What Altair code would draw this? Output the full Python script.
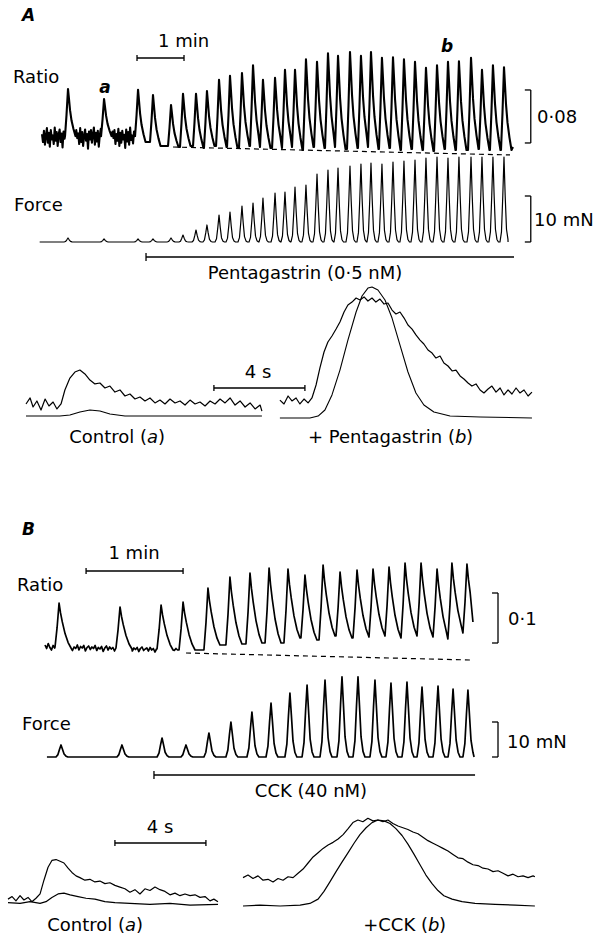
import altair as alt
import pandas as pd

FONT = "DejaVu Sans"
W = 599

# ================= Panel A : slow recordings (time s, ratio change, force mN) =================
A_EVENT_T = [33.2, 79.2, 122.6, 141.7, 164.7, 180.0, 196.6, 210.6, 226.0, 240.0, 255.3, 269.4,
             282.1, 297.5, 310.2, 323.0, 337.0, 351.1, 365.1, 377.9, 393.2, 407.2, 420.0, 434.0,
             448.1, 462.1, 476.2, 490.2, 504.3, 518.3, 532.3, 547.7, 561.7, 575.7, 589.8]
A_RATIO_PEAK = [0.092, 0.077, 0.091, 0.083, 0.068, 0.085, 0.085, 0.089, 0.106, 0.112, 0.116, 0.128,
                0.106, 0.109, 0.121, 0.121, 0.137, 0.133, 0.146, 0.142, 0.148, 0.142, 0.148, 0.139,
                0.140, 0.137, 0.133, 0.124, 0.128, 0.133, 0.134, 0.139, 0.121, 0.128, 0.125]
A_RATIO_TROUGH = [0.021, 0.021, 0.021, 0.012, 0.006, 0.0045, 0.006, 0.003, 0.006, 0.0045, 0.003, 0.006,
                  0.0045, 0.003, 0.003, 0.0045, 0.0, 0.0045, 0.003, 0.0045, 0.0015, 0.003, 0.0045, 0.0015,
                  0.003, 0.0, 0.0015, 0.0, -0.0015, 0.0015, 0.0, 0.0, 0.0015, 0.0, 0.0]
A_RATIO_END = [601.3, 0.0045]
A_RATIO_NOISE_DT = 1.25
A_RATIO_NOISE = [0.024, 0.012, 0.029, 0.008, 0.021, 0.033, 0.011, 0.026, 0.005, 0.030,
                 0.016, 0.022, 0.009, 0.034, 0.014, 0.027, 0.006, 0.023, 0.031, 0.012,
                 0.025, 0.004, 0.028, 0.017, 0.032, 0.010, 0.020, 0.035, 0.013, 0.026,
                 0.007, 0.029, 0.015, 0.022, 0.003, 0.030, 0.018, 0.025, 0.009, 0.033,
                 0.012, 0.027, 0.006, 0.021, 0.031, 0.014, 0.024, 0.002, 0.028, 0.016,
                 0.030, 0.011, 0.023, 0.034, 0.008, 0.026, 0.013, 0.029, 0.005, 0.022,
                 0.032, 0.010, 0.025, 0.017, 0.031, 0.007, 0.027, 0.012, 0.033, 0.015,
                 0.021, 0.004, 0.028, 0.018, 0.030, 0.009, 0.024, 0.014, 0.032, 0.006,
                 0.026, 0.011, 0.029, 0.016, 0.023, 0.003, 0.031, 0.013, 0.027, 0.008,
                 0.034, 0.015, 0.022, 0.010, 0.028]
A_FORCE_PEAK = [0.87, 0.65, 0.65, 0.65, 0.87, 1.52, 2.61, 3.70, 5.87, 6.52, 7.83, 8.48,
                9.57, 10.65, 10.87, 11.96, 12.39, 14.78, 15.65, 16.09, 16.52, 16.96, 17.17, 16.96,
                17.39, 17.61, 17.83, 18.26, 18.48, 18.26, 18.48, 18.48, 18.48, 18.48, 18.48]
A_FORCE_SPAN = [-3.0, 595.0]
A_BASELINE_T = [167.2, 597.5]
A_BASELINE_V = [0.0045, -0.0075]
A_RATIO_RISE_DT = [-3.8, -1.9, 0.0]
A_RATIO_RISE_FR = [0.0, 0.45, 1.0]
A_RATIO_DECAY_DT = [1.3, 2.6, 4.5, 7.0, 9.6]
A_RATIO_DECAY_FR = [0.78, 0.55, 0.33, 0.15, 0.0]
A_FORCE_DT = [-5.1, -3.2, -1.5, 0.0, 1.5, 3.2, 5.1, 7.0]
A_FORCE_FR = [0.0, 0.12, 0.55, 1.0, 0.55, 0.15, 0.03, 0.0]
A_PENTA_T = [132.8, 602.6]
A_MIN_BAR_T = [121.3, 181.3]
A_RATIO_SCALE = [0.0106, 0.0906]
A_FORCE_SCALE = [0.0, 10.0]
A_SCALE_T = [616.4, 624.0]

# ================= Panel A : fast sweeps (s, normalised) =================
A_CTRL_RATIO_T = [0.00, 0.18, 0.31, 0.48, 0.66, 0.84, 1.01, 1.19, 1.36, 1.54, 1.71, 1.93, 2.15, 2.37,
                  2.59, 2.81, 3.03, 3.25, 3.47, 3.69, 3.91, 4.13, 4.35, 4.57, 4.79, 5.01, 5.23, 5.45,
                  5.67, 5.89, 6.11, 6.33, 6.55, 6.77, 6.99, 7.21, 7.43, 7.65, 7.87, 8.09, 8.31, 8.53,
                  8.75, 8.97, 9.19, 9.41, 9.63, 9.85, 10.07, 10.29, 10.37]
A_CTRL_RATIO_V = [0.107, 0.153, 0.084, 0.130, 0.061, 0.145, 0.092, 0.122, 0.069, 0.107, 0.214, 0.305,
                  0.351, 0.366, 0.336, 0.290, 0.260, 0.267, 0.229, 0.244, 0.198, 0.214, 0.168, 0.183,
                  0.145, 0.160, 0.130, 0.153, 0.115, 0.137, 0.107, 0.145, 0.115, 0.130, 0.099, 0.137,
                  0.107, 0.122, 0.092, 0.130, 0.107, 0.145, 0.115, 0.153, 0.099, 0.130, 0.084, 0.115,
                  0.069, 0.099, 0.053]
A_CTRL_FORCE_T = [0.00, 1.49, 1.93, 2.37, 2.81, 3.25, 3.69, 4.35, 10.37]
A_CTRL_FORCE_V = [0.015, 0.015, 0.023, 0.046, 0.061, 0.053, 0.031, 0.015, 0.015]
A_PENTA_RATIO_T = [11.16, 11.34, 11.52, 11.69, 11.87, 12.04, 12.22, 12.40, 12.57, 12.75, 12.92, 13.10,
                   13.27, 13.45, 13.63, 13.80, 13.98, 14.15, 14.33, 14.51, 14.68, 14.86, 15.03, 15.21,
                   15.38, 15.56, 15.74, 15.91, 16.09, 16.26, 16.44, 16.62, 16.79, 16.97, 17.14, 17.32,
                   17.49, 17.67, 17.85, 18.02, 18.20, 18.37, 18.55, 18.73, 18.90, 19.08, 19.25, 19.43,
                   19.60, 19.78, 19.96, 20.13, 20.31, 20.48, 20.66, 20.84, 21.01, 21.19, 21.36, 21.54,
                   21.71, 21.89, 22.07, 22.24]
A_PENTA_RATIO_V = [0.137, 0.107, 0.168, 0.130, 0.153, 0.107, 0.145, 0.115, 0.153, 0.252, 0.382, 0.504,
                   0.580, 0.626, 0.679, 0.733, 0.809, 0.863, 0.885, 0.916, 0.901, 0.924, 0.893, 0.916,
                   0.885, 0.908, 0.870, 0.878, 0.824, 0.794, 0.809, 0.763, 0.710, 0.679, 0.634, 0.595,
                   0.565, 0.519, 0.496, 0.458, 0.473, 0.420, 0.397, 0.359, 0.366, 0.321, 0.298, 0.267,
                   0.244, 0.260, 0.214, 0.191, 0.221, 0.244, 0.198, 0.229, 0.176, 0.214, 0.183, 0.229,
                   0.191, 0.214, 0.168, 0.198]
A_PENTA_FORCE_T = [11.16, 12.48, 12.84, 13.14, 13.45, 13.80, 14.15, 14.51, 14.77, 15.03, 15.21, 15.47,
                   15.78, 16.09, 16.44, 16.79, 17.14, 17.49, 17.93, 18.64, 19.96, 22.24]
A_PENTA_FORCE_V = [0.0, 0.0, 0.015, 0.061, 0.176, 0.366, 0.595, 0.809, 0.931, 0.992, 1.0, 0.977,
                   0.901, 0.763, 0.557, 0.351, 0.191, 0.099, 0.046, 0.015, 0.008, 0.0]
A_FOUR_S_T = [8.26, 12.26]

# ================= Panel B : slow recordings =================
B_EVENT_T = [8.7, 46.4, 71.8, 85.4, 100.8, 114.4, 126.8, 138.6, 150.3, 160.8, 172.0, 182.5, 193.0,
             202.9, 212.8, 222.7, 232.6, 242.5, 251.7, 261.0]
B_RATIO_PEAK = [0.100, 0.092, 0.096, 0.102, 0.130, 0.152, 0.160, 0.170, 0.168, 0.156, 0.176, 0.162,
                0.166, 0.168, 0.172, 0.180, 0.180, 0.168, 0.180, 0.178]
B_RATIO_TROUGH = [0.012, 0.010, 0.008, 0.006, 0.006, 0.016, 0.018, 0.020, 0.020, 0.030, 0.026, 0.034,
                  0.030, 0.032, 0.034, 0.030, 0.034, 0.032, 0.028, 0.040]
B_RATIO_END = [264.7, 0.062]
B_RATIO_NOISE_DT = 1.0
B_RATIO_NOISE = [0.016, 0.009, 0.019, 0.011, 0.006, 0.015, 0.010, 0.018, 0.007, 0.013,
                 0.004, 0.016, 0.012, 0.008, 0.017, 0.010, 0.014, 0.005, 0.012, 0.009,
                 0.016, 0.006, 0.013, 0.010, 0.015, 0.004, 0.011, 0.014, 0.007, 0.012,
                 0.009, 0.015, 0.005, 0.011, 0.008, 0.013, 0.003, 0.010, 0.014, 0.006,
                 0.012, 0.008, 0.011, 0.004, 0.013, 0.007, 0.010, 0.005, 0.012, 0.002,
                 0.009, 0.011, 0.006, 0.013, 0.004, 0.010, 0.007, 0.011, 0.003, 0.009,
                 0.012, 0.005, 0.008, 0.010, 0.004, 0.011, 0.006, 0.009, 0.002, 0.008,
                 0.010, 0.005, 0.007, 0.011, 0.003, 0.009, 0.006, 0.010, 0.004, 0.008,
                 0.005, 0.009, 0.006]
B_FORCE_T = [9.9, 47.6, 72.4, 87.2, 101.4, 115.0, 128.0, 139.8, 151.5, 162.1, 173.2, 183.7, 193.6,
             204.1, 214.0, 223.9, 233.2, 243.1, 252.4, 261.6]
B_FORCE_PEAK = [3.43, 3.43, 5.43, 3.43, 6.86, 10.0, 12.86, 15.43, 18.29, 20.57, 22.0, 22.9, 22.9,
                22.0, 21.14, 21.43, 20.0, 20.29, 19.43, 19.14]
B_FORCE_SPAN = [1.2, 265.4]
B_BASELINE_T = [87.2, 262.9]
B_BASELINE_V = [0.0, -0.014]
B_RATIO_RISE_DT = [-2.5, -1.2, 0.0]
B_RATIO_RISE_FR = [0.0, 0.45, 1.0]
B_RATIO_DECAY_DT = [0.9, 2.0, 3.7, 5.6, 7.4]
B_RATIO_DECAY_FR = [0.78, 0.58, 0.32, 0.12, 0.0]
B_FORCE_DT = [-3.1, -1.9, -0.9, 0.0, 0.9, 1.9, 3.1, 4.3]
B_FORCE_FR = [0.0, 0.2, 0.65, 1.0, 0.65, 0.25, 0.07, 0.0]
B_CCK_T = [67.4, 266.0]
B_MIN_BAR_T = [25.4, 85.4]
B_RATIO_SCALE = [0.02, 0.12]
B_FORCE_SCALE = [0.0, 10.0]
B_SCALE_T = [276.5, 280.2]

# ================= Panel B : fast sweeps =================
B_CTRL_RATIO_T = [0, 0.18, 0.35, 0.53, 0.70, 0.88, 1.05, 1.23, 1.41, 1.58, 1.76, 1.93, 2.11, 2.29,
                  2.46, 2.64, 2.81, 2.99, 3.16, 3.38, 3.60, 3.82, 4.04, 4.26, 4.48, 4.70, 4.92, 5.14,
                  5.36, 5.58, 5.80, 6.02, 6.24, 6.46, 6.68, 6.90, 7.12, 7.34, 7.56, 7.78, 8.00, 8.22,
                  8.44, 8.66, 8.88, 9.05, 9.23]
B_CTRL_RATIO_V = [0.08, 0.11, 0.06, 0.12, 0.07, 0.10, 0.05, 0.09, 0.14, 0.30, 0.45, 0.53, 0.54, 0.52,
                  0.50, 0.44, 0.39, 0.35, 0.33, 0.30, 0.31, 0.28, 0.29, 0.26, 0.27, 0.24, 0.22, 0.20,
                  0.16, 0.19, 0.14, 0.20, 0.18, 0.22, 0.19, 0.17, 0.13, 0.15, 0.12, 0.14, 0.12, 0.13,
                  0.10, 0.11, 0.06, 0.08, 0.05]
B_CTRL_FORCE_T = [0, 0.53, 0.97, 1.41, 1.67, 1.93, 2.20, 2.46, 2.73, 3.08, 3.43, 3.82, 4.26, 4.70,
                  5.36, 6.24, 7.12, 8.00, 9.23]
B_CTRL_FORCE_V = [0.04, 0.03, 0.05, 0.03, 0.05, 0.10, 0.14, 0.15, 0.13, 0.11, 0.09, 0.08, 0.05, 0.04,
                  0.03, 0.02, 0.03, 0.01, 0.02]
B_CCK_RATIO_T = [10.33, 10.55, 10.77, 10.99, 11.21, 11.43, 11.65, 11.87, 12.09, 12.31, 12.53, 12.75,
                 12.97, 13.19, 13.41, 13.63, 13.85, 14.07, 14.29, 14.51, 14.73, 14.95, 15.16, 15.38,
                 15.60, 15.82, 16.04, 16.26, 16.48, 16.70, 16.92, 17.14, 17.36, 17.58, 17.80, 18.02,
                 18.24, 18.46, 18.68, 18.90, 19.12, 19.34, 19.56, 19.78, 20.00, 20.22, 20.44, 20.66,
                 20.88, 21.10, 21.32, 21.54, 21.76, 21.98, 22.20, 22.42, 22.64, 22.86, 23.08, 23.16]
B_CCK_RATIO_V = [0.33, 0.36, 0.32, 0.35, 0.30, 0.31, 0.28, 0.32, 0.30, 0.34, 0.33, 0.38, 0.43, 0.50,
                 0.57, 0.62, 0.67, 0.71, 0.74, 0.78, 0.83, 0.90, 0.97, 1.00, 0.98, 1.02, 0.99, 1.00,
                 0.98, 1.00, 0.96, 0.93, 0.91, 0.89, 0.86, 0.84, 0.80, 0.76, 0.73, 0.70, 0.67, 0.64,
                 0.60, 0.56, 0.55, 0.51, 0.48, 0.47, 0.44, 0.43, 0.40, 0.41, 0.38, 0.35, 0.37, 0.34,
                 0.35, 0.33, 0.35, 0.34]
B_CCK_FORCE_T = [10.33, 11.08, 11.96, 12.84, 13.27, 13.63, 13.89, 14.15, 14.42, 14.68, 14.95, 15.21,
                 15.47, 15.74, 16.00, 16.26, 16.53, 16.79, 17.05, 17.32, 17.58, 17.85, 18.11, 18.37,
                 18.64, 18.90, 19.16, 19.52, 19.96, 20.53, 21.41, 22.29, 23.16]
B_CCK_FORCE_V = [0.0, 0.01, 0.0, 0.01, 0.03, 0.08, 0.17, 0.28, 0.40, 0.51, 0.62, 0.73, 0.83, 0.91,
                 0.97, 1.0, 0.99, 0.96, 0.90, 0.82, 0.72, 0.60, 0.48, 0.36, 0.26, 0.18, 0.12, 0.08,
                 0.05, 0.03, 0.02, 0.01, 0.0]
B_FOUR_S_T = [4.70, 8.70]

# ---------------- scale domains of each row ----------------
A_X_DOM = [-53.62, 711.1]
A_RATIO_DOM = [-0.01057, 0.2264]
A_FORCE_DOM = [-8.70, 18.48]
A_FAST_X = [-1.1429, 25.187]
A_FAST_Y = [-0.2824, 1.0382]
B_X_DOM = [-27.835, 342.67]
B_RATIO_DOM = [-0.024, 0.396]
B_FORCE_DOM = [-12.286, 26.286]
B_FAST_X = [-0.3516, 25.978]
B_FAST_Y = [-0.3721, 1.2326]


# ---------------- helpers ----------------
def sc(dom):
    return alt.Scale(domain=dom, nice=False, zero=False)


def frame(pts):
    pts = sorted(pts)
    return pd.DataFrame({"t": [p[0] for p in pts], "v": [p[1] for p in pts], "i": list(range(len(pts)))})


def ratio_train(times, peaks, troughs, rdt, rfr, ddt, dfr, end, noise_dt, noise, noise_until):
    pts = []
    n = len(times)
    for k in range(n):
        tp, pk, b0 = times[k], peaks[k], troughs[k]
        b1 = troughs[k + 1] if k + 1 < n else troughs[k]
        lim = times[k + 1] + rdt[0] if k + 1 < n else end[0]
        for d, f in zip(rdt, rfr):
            pts.append((tp + d, b0 + f * (pk - b0)))
        for d, f in zip(ddt, dfr):
            if tp + d < lim:
                pts.append((tp + d, b1 + f * (pk - b1)))
    pts.append((end[0], end[1]))
    for k, v in enumerate(noise):
        t = k * noise_dt
        if t >= noise_until:
            break
        if any(tp + rdt[0] <= t <= tp + ddt[-1] for tp in times):
            continue
        pts.append((t, v))
    return frame(pts)


def force_train(times, peaks, dt, fr, span):
    pts = [(span[0], 0.0), (span[1], 0.0)]
    for tp, pk in zip(times, peaks):
        for d, f in zip(dt, fr):
            if span[0] <= tp + d <= span[1]:
                pts.append((tp + d, f * pk))
    return frame(pts)


def line(df, xd, yd, width=1.2, dash=None):
    kw = dict(color="black", strokeWidth=width, strokeJoin="round", strokeCap="butt")
    if dash:
        kw["strokeDash"] = dash
    return alt.Chart(df).mark_line(**kw).encode(
        x=alt.X("t:Q", scale=sc(xd), axis=None),
        y=alt.Y("v:Q", scale=sc(yd), axis=None),
        order="i:Q",
    )


def hbar(t0, t1, ypx, xd, ends=(True, True), tick=4, width=1.3):
    bar = alt.Chart(pd.DataFrame({"t": [t0], "t2": [t1]})).mark_rule(color="black", strokeWidth=width).encode(
        x=alt.X("t:Q", scale=sc(xd), axis=None), x2="t2:Q", y=alt.value(ypx))
    tt = [t for t, e in zip([t0, t1], ends) if e]
    tk = alt.Chart(pd.DataFrame({"t": tt})).mark_rule(color="black", strokeWidth=width).encode(
        x=alt.X("t:Q", scale=sc(xd), axis=None), y=alt.value(ypx - tick), y2=alt.value(ypx + tick))
    return [bar, tk]


def bracket(tl, tx, v0, v1, xd, yd, width=1.3):
    vert = alt.Chart(pd.DataFrame({"t": [tx], "v": [v0], "v2": [v1]})).mark_rule(
        color="black", strokeWidth=width).encode(
        x=alt.X("t:Q", scale=sc(xd), axis=None),
        y=alt.Y("v:Q", scale=sc(yd), axis=None), y2="v2:Q")
    ticks = alt.Chart(pd.DataFrame({"t": [tl, tl], "t2": [tx, tx], "v": [v0, v1]})).mark_rule(
        color="black", strokeWidth=width).encode(
        x=alt.X("t:Q", scale=sc(xd), axis=None), x2="t2:Q",
        y=alt.Y("v:Q", scale=sc(yd), axis=None))
    return [vert, ticks]


def label(text, x, y, size=18, align="left", style="normal", weight="normal"):
    return alt.Chart(pd.DataFrame({"k": [0]})).mark_text(
        text=text, align=align, baseline="middle", font=FONT, fontSize=size,
        fontStyle=style, fontWeight=weight, color="black").encode(
        x=alt.value(x), y=alt.value(y))


def pair(df_t, df_v):
    return frame(list(zip(df_t, df_v)))


# ---------------- Row 1 : A ratio ----------------
a_ratio = ratio_train(A_EVENT_T, A_RATIO_PEAK, A_RATIO_TROUGH, A_RATIO_RISE_DT, A_RATIO_RISE_FR,
                      A_RATIO_DECAY_DT, A_RATIO_DECAY_FR, A_RATIO_END, A_RATIO_NOISE_DT, A_RATIO_NOISE,
                      A_EVENT_T[2] + A_RATIO_RISE_DT[0])
row1 = alt.layer(
    line(a_ratio, A_X_DOM, A_RATIO_DOM, width=2.1),
    line(pair(A_BASELINE_T, A_BASELINE_V), A_X_DOM, A_RATIO_DOM, width=1.2, dash=[5, 4]),
    *hbar(A_MIN_BAR_T[0], A_MIN_BAR_T[1], 58, A_X_DOM, tick=3),
    *bracket(A_SCALE_T[0], A_SCALE_T[1], A_RATIO_SCALE[0], A_RATIO_SCALE[1], A_X_DOM, A_RATIO_DOM),
    label("A", 22, 16, size=17, style="italic", weight="bold"),
    label("1 min", 158, 42),
    label("Ratio", 13, 78),
    label("a", 105, 88, size=17, align="center", style="italic", weight="bold"),
    label("b", 447, 47, size=17, align="center", style="italic", weight="bold"),
    label("0·08", 537, 118),
).properties(width=W, height=157)

# ---------------- Row 2 : A force ----------------
a_force = force_train(A_EVENT_T, A_FORCE_PEAK, A_FORCE_DT, A_FORCE_FR, A_FORCE_SPAN)
row2 = alt.layer(
    line(a_force, A_X_DOM, A_FORCE_DOM, width=1.2),
    *bracket(A_SCALE_T[0], A_SCALE_T[1], A_FORCE_SCALE[0], A_FORCE_SCALE[1], A_X_DOM, A_FORCE_DOM),
    *hbar(A_PENTA_T[0], A_PENTA_T[1], 100, A_X_DOM, ends=(True, False), tick=4),
    label("Force", 14, 49),
    label("10 mN", 534, 64),
    label("Pentagastrin (0·5 nM)", 305, 117, align="center"),
).properties(width=W, height=125)

# ---------------- Row 3 : A fast sweeps ----------------
row3 = alt.layer(
    line(pair(A_CTRL_RATIO_T, A_CTRL_RATIO_V), A_FAST_X, A_FAST_Y, width=1.2),
    line(pair(A_CTRL_FORCE_T, A_CTRL_FORCE_V), A_FAST_X, A_FAST_Y, width=1.1),
    line(pair(A_PENTA_RATIO_T, A_PENTA_RATIO_V), A_FAST_X, A_FAST_Y, width=1.2),
    line(pair(A_PENTA_FORCE_T, A_PENTA_FORCE_V), A_FAST_X, A_FAST_Y, width=1.1),
    *hbar(A_FOUR_S_T[0], A_FOUR_S_T[1], 106, A_FAST_X, tick=3),
    label("4 s", 258, 91, align="center"),
    label("Control (", 147, 156, align="right"),
    label("a", 147, 156, style="italic"),
    label(")", 158, 156),
    label("+ Pentagastrin (", 455, 156, align="right"),
    label("b", 455, 156, style="italic"),
    label(")", 466, 156),
).properties(width=W, height=173)

# ---------------- Row 4 : B ratio ----------------
b_ratio = ratio_train(B_EVENT_T, B_RATIO_PEAK, B_RATIO_TROUGH, B_RATIO_RISE_DT, B_RATIO_RISE_FR,
                      B_RATIO_DECAY_DT, B_RATIO_DECAY_FR, B_RATIO_END, B_RATIO_NOISE_DT, B_RATIO_NOISE,
                      B_EVENT_T[3] + B_RATIO_RISE_DT[0])
row4 = alt.layer(
    line(b_ratio, B_X_DOM, B_RATIO_DOM, width=1.7),
    line(pair(B_BASELINE_T, B_BASELINE_V), B_X_DOM, B_RATIO_DOM, width=1.2, dash=[5, 4]),
    *hbar(B_MIN_BAR_T[0], B_MIN_BAR_T[1], 116, B_X_DOM, tick=3),
    *bracket(B_SCALE_T[0], B_SCALE_T[1], B_RATIO_SCALE[0], B_RATIO_SCALE[1], B_X_DOM, B_RATIO_DOM),
    label("B", 22, 75, size=17, style="italic", weight="bold"),
    label("1 min", 134, 99, align="center"),
    label("Ratio", 17, 131),
    label("0·1", 508, 165),
).properties(width=W, height=210)

# ---------------- Row 5 : B force ----------------
b_force = force_train(B_FORCE_T, B_FORCE_PEAK, B_FORCE_DT, B_FORCE_FR, B_FORCE_SPAN)
row5 = alt.layer(
    line(b_force, B_X_DOM, B_FORCE_DOM, width=1.7),
    *bracket(B_SCALE_T[0], B_SCALE_T[1], B_FORCE_SCALE[0], B_FORCE_SCALE[1], B_X_DOM, B_FORCE_DOM),
    *hbar(B_CCK_T[0], B_CCK_T[1], 110, B_X_DOM, ends=(True, False), tick=4),
    label("Force", 22, 60),
    label("10 mN", 507, 78),
    label("CCK (40 nM)", 311, 127, align="center"),
).properties(width=W, height=135)

# ---------------- Row 6 : B fast sweeps ----------------
row6 = alt.layer(
    line(pair(B_CTRL_RATIO_T, B_CTRL_RATIO_V), B_FAST_X, B_FAST_Y, width=1.2),
    line(pair(B_CTRL_FORCE_T, B_CTRL_FORCE_V), B_FAST_X, B_FAST_Y, width=1.2),
    line(pair(B_CCK_RATIO_T, B_CCK_RATIO_V), B_FAST_X, B_FAST_Y, width=1.2),
    line(pair(B_CCK_FORCE_T, B_CCK_FORCE_V), B_FAST_X, B_FAST_Y, width=1.2),
    *hbar(B_FOUR_S_T[0], B_FOUR_S_T[1], 43, B_FAST_X, tick=3),
    label("4 s", 160, 28, align="center"),
    label("Control (", 125, 126, align="right"),
    label("a", 125, 126, style="italic"),
    label(")", 136, 126),
    label("+CCK (", 428, 126, align="right"),
    label("b", 428, 126, style="italic"),
    label(")", 439, 126),
).properties(width=W, height=138)

chart = alt.vconcat(row1, row2, row3, row4, row5, row6, spacing=0, bounds="flush").properties(
    padding=0, background="white"
).configure_view(stroke=None)

chart.save("out.html", embed_options={"renderer": "svg", "actions": False})
